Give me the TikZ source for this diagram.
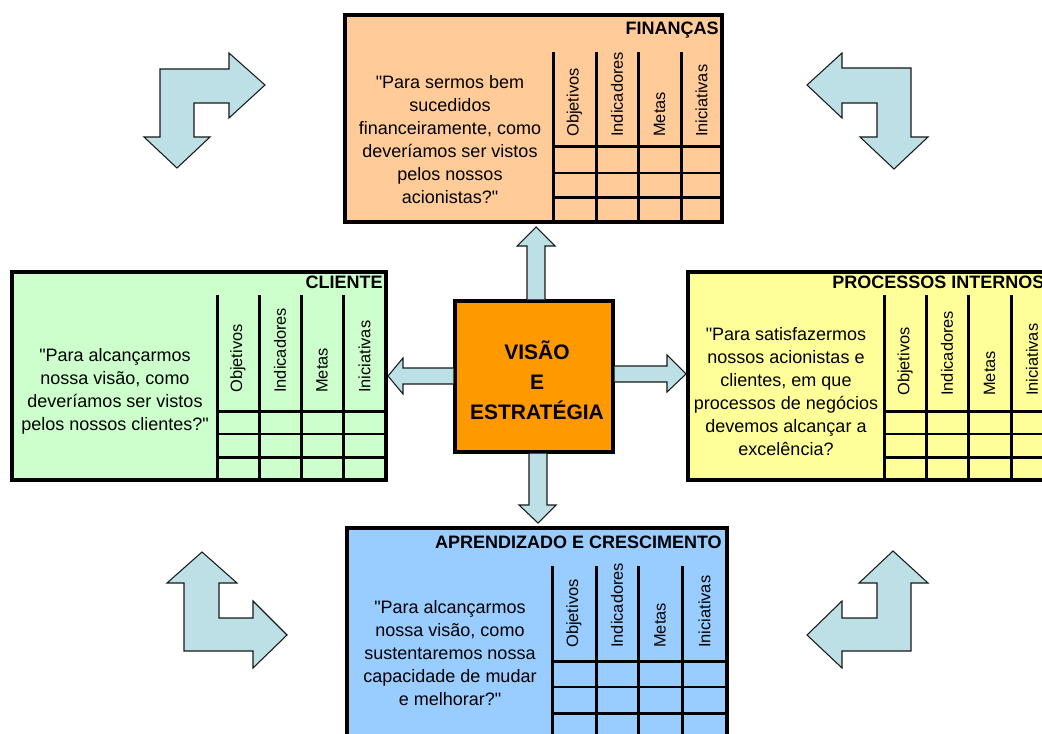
\documentclass[tikz,border=0pt]{standalone}
\usepackage{fontspec}
\setmainfont{Liberation Sans}[Ligatures=TeXOff]
\usetikzlibrary{fit,calc}

\definecolor{finfill}{HTML}{FFCC99}
\definecolor{clifill}{HTML}{CCFFCC}
\definecolor{profill}{HTML}{FFFF99}
\definecolor{aprfill}{HTML}{99CCFF}
\definecolor{ctrfill}{HTML}{FF9900}
\definecolor{arrowfill}{HTML}{BCE0E5}

\tikzset{
  panel/.style={draw=black, line width=3pt, inner sep=0pt},
  hub/.style={draw=black, line width=2.6pt, inner sep=0pt, fill=ctrfill},
  gridrule/.style={line width=2.25pt},
  thinrule/.style={line width=1.5pt},
  question/.style={align=center, inner sep=0pt, font=\fontsize{13.5}{17.25}\selectfont},
  colhead/.style={rotate=90, anchor=west, inner sep=0pt, font=\fontsize{12.3}{14}\selectfont},
  ptitle/.style={inner sep=0pt, font=\bfseries\fontsize{13.5}{16}\selectfont},
  hubtext/.style={align=center, inner sep=0pt, font=\bfseries\fontsize{15.75}{22.5}\selectfont},
  flow/.style={fill=arrowfill, draw=black!90, line width=0.8pt, line join=miter},
}

\begin{document}
\begin{tikzpicture}[x=0.75pt, y=-0.75pt]
\useasboundingbox (0,0) rectangle (1042,734);
\clip (0,0) rectangle (1042,734);

% ---------- corner bent arrows ----------
\filldraw[flow] (160,69) -- (229,69) -- (229,53) -- (265,85) -- (229,118) -- (229,103)
  -- (194,103) -- (194,137) -- (210,137) -- (177,168) -- (144,137) -- (160,137) -- cycle;
\filldraw[flow] (807,85) -- (842,53) -- (842,68) -- (911,68) -- (911,137) -- (928,137)
  -- (894,169) -- (860,137) -- (877,137) -- (877,103) -- (842,103) -- (842,118) -- cycle;
\filldraw[flow] (202,552) -- (237,583) -- (219,583) -- (219,618) -- (253,618) -- (253,601)
  -- (287,635) -- (253,668) -- (253,651) -- (184,651) -- (184,583) -- (167,583) -- cycle;
\filldraw[flow] (893,551) -- (928,583) -- (911,583) -- (911,651) -- (842,651) -- (842,668)
  -- (807,635) -- (842,601) -- (842,618) -- (877,618) -- (877,583) -- (859,583) -- cycle;

% ---------- FINANÇAS ----------
\node[panel, fill=finfill, fit={(345,15) (722,222)}] (fin) {};
\node[ptitle, anchor=base east] (fint) at (719,35) {FINANÇAS};
\foreach \cx in {553,596,638,681} \draw[gridrule] (\cx,52) -- (\cx,222);
\draw[gridrule] (553,147) -- (722,147);
\draw[thinrule] (553,173) -- (722,173);
\draw[gridrule] (553,198) -- (722,198);
\foreach \cx/\lab [count=\i] in {574.5/Objetivos,617/Indicadores,659.5/Metas,701.5/Iniciativas}
  \node[colhead] (finh\i) at (\cx,137) {\lab};
\node[question] (finq) at (450,140) {"Para sermos bem\\sucedidos\\financeiramente, como\\deveríamos ser vistos\\pelos nossos\\acionistas?"};

% ---------- CLIENTE ----------
\node[panel, fill=clifill, fit={(12,272) (386,480)}] (cli) {};
\node[ptitle, anchor=base east] (clit) at (383,289) {CLIENTE};
\foreach \cx in {217,259,301,343} \draw[gridrule] (\cx,295) -- (\cx,480);
\draw[gridrule] (217,411) -- (386,411);
\draw[thinrule] (217,434) -- (386,434);
\draw[gridrule] (217,457) -- (386,457);
\foreach \cx/\lab [count=\i] in {238/Objetivos,280/Indicadores,322/Metas,364.5/Iniciativas}
  \node[colhead] (clih\i) at (\cx,393) {\lab};
\node[question] (cliq) at (115,391) {"Para alcançarmos\\nossa visão, como\\deveríamos ser vistos\\pelos nossos clientes?"};

% ---------- PROCESSOS INTERNOS ----------
\node[panel, fill=profill, fit={(688,272) (1052,480)}] (pro) {};
\node[ptitle, anchor=base west] (prot) at (832,288) {PROCESSOS INTERNOS};
\foreach \cx in {884,926,968,1011} \draw[gridrule] (\cx,295) -- (\cx,480);
\draw[gridrule] (884,411) -- (1052,411);
\draw[thinrule] (884,434) -- (1052,434);
\draw[gridrule] (884,457) -- (1052,457);
\foreach \cx/\lab [count=\i] in {905/Objetivos,947/Indicadores,989.5/Metas,1032/Iniciativas}
  \node[colhead] (proh\i) at (\cx,396) {\lab};
\node[question] (proq) at (786,391.5) {"Para satisfazermos\\nossos acionistas e\\clientes, em que\\processos de negócios\\devemos alcançar a\\excelência?};

% ---------- APRENDIZADO E CRESCIMENTO ----------
\node[panel, fill=aprfill, fit={(347,528) (727,742)}] (apr) {};
\node[ptitle, anchor=base east] (aprt) at (722,548) {APRENDIZADO E CRESCIMENTO};
\foreach \cx in {552,596,638,682} \draw[gridrule] (\cx,566) -- (\cx,742);
\draw[gridrule] (552,661) -- (727,661);
\draw[thinrule] (552,687) -- (727,687);
\draw[gridrule] (552,713) -- (727,713);
\foreach \cx/\lab [count=\i] in {574/Objetivos,617/Indicadores,660/Metas,704.5/Iniciativas}
  \node[colhead] (aprh\i) at (\cx,648) {\lab};
\node[question] (aprq) at (450,653) {"Para alcançarmos\\nossa visão, como\\sustentaremos nossa\\capacidade de mudar\\e melhorar?"};

% ---------- VISÃO E ESTRATÉGIA ----------
\node[hub, fit={(455,301) (613,452)}] (ctr) {};
\node[hubtext] (ctrt) at (537,380) {VISÃO\\E\\ESTRATÉGIA};

% ---------- arrows from the hub to the four perspectives ----------
\path[flow] (527,0 |- ctr.north) -- (527,246) -- (517,246) -- ($(536,0 |- fin.south)+(0,3)$)
  -- (555,246) -- (545,246) -- (545,0 |- ctr.north);
\path[flow] (529,0 |- ctr.south) -- (529,505) -- (519,505) -- ($(538,0 |- apr.north)+(0,-3)$)
  -- (556,505) -- (547,505) -- (547,0 |- ctr.south);
\path[flow] (ctr.west |- 0,368) -- (403,368) -- (403,358) -- (cli.east |- 0,376)
  -- (403,394) -- (403,384) -- (ctr.west |- 0,384);
\path[flow] (ctr.east |- 0,366) -- (667,366) -- (667,355) -- (pro.west |- 0,374)
  -- (667,392) -- (667,382) -- (ctr.east |- 0,382);
\end{tikzpicture}
\end{document}
